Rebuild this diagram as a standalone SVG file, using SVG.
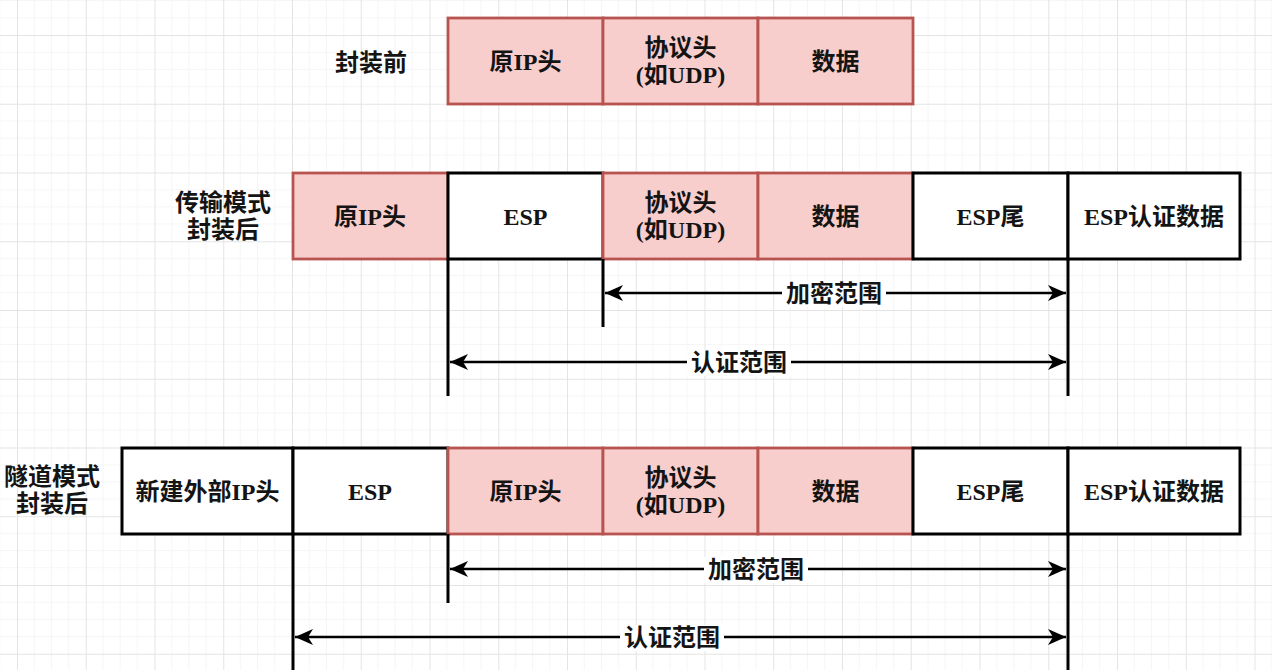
<svg xmlns="http://www.w3.org/2000/svg" width="1272" height="670" viewBox="0 0 1272 670">
<defs>
<style>
.t{font-family:"Liberation Serif","Noto Sans CJK SC",serif;font-weight:bold;font-size:24px;text-anchor:middle;fill:#141414}
.p{fill:#f8cecc;stroke:#b85450;stroke-width:2.8}
.w{fill:#ffffff;stroke:#000000;stroke-width:3}
.v{stroke:#000000;stroke-width:3;fill:none}
.a{stroke:#000000;stroke-width:2.5;fill:none;marker-start:url(#ah);marker-end:url(#ah)}
.bg{fill:#ffffff}
</style>
<marker id="ah" markerUnits="userSpaceOnUse" markerWidth="20" markerHeight="20" viewBox="0 0 20 20" refX="19" refY="10" orient="auto-start-reverse">
<path d="M1,2 L19,10 L1,18 L6,10 Z" fill="#000000"/>
</marker>
<pattern id="grid" x="17" y="35" width="68.75" height="68.75" patternUnits="userSpaceOnUse">
<path d="M17.19,0V68.75M34.38,0V68.75M51.56,0V68.75M0,17.19H68.75M0,34.38H68.75M0,51.56H68.75" stroke="#f5f5f5" stroke-width="1" fill="none"/>
<path d="M0.5,0V68.75M0,0.5H68.75" stroke="#e4e4e4" stroke-width="1" fill="none"/>
</pattern>
</defs>
<rect x="0" y="0" width="1272" height="670" fill="#ffffff"/>
<rect x="0" y="0" width="1272" height="670" fill="url(#grid)"/>

<g id="label-before"><text class="t" x="371" y="71">封装前</text></g>
<g id="label-transport"><text class="t" x="223" y="211">传输模式</text><text class="t" x="223" y="238">封装后</text></g>
<g id="label-tunnel"><text class="t" x="52" y="485">隧道模式</text><text class="t" x="52" y="512">封装后</text></g>

<g id="r1-ip"><rect class="p" x="448" y="18" width="155" height="86"/><text class="t" x="525.5" y="70">原IP头</text></g>
<g id="r1-proto"><rect class="p" x="603" y="18" width="155" height="86"/><text class="t" x="680.5" y="56">协议头</text><text class="t" x="680.5" y="83">(如UDP)</text></g>
<g id="r1-data"><rect class="p" x="758" y="18" width="155" height="86"/><text class="t" x="835.5" y="70">数据</text></g>

<g id="r2-ip"><rect class="p" x="293" y="173" width="155" height="86"/><text class="t" x="370" y="225">原IP头</text></g>
<g id="r2-esp"><rect class="w" x="448" y="173" width="155" height="86"/><text class="t" x="525.5" y="225">ESP</text></g>
<g id="r2-proto"><rect class="p" x="603" y="173" width="155" height="86"/><text class="t" x="680.5" y="211">协议头</text><text class="t" x="680.5" y="238">(如UDP)</text></g>
<g id="r2-data"><rect class="p" x="758" y="173" width="155" height="86"/><text class="t" x="835.5" y="225">数据</text></g>
<g id="r2-trailer"><rect class="w" x="913" y="173" width="155" height="86"/><text class="t" x="990.5" y="225">ESP尾</text></g>
<g id="r2-auth"><rect class="w" x="1068" y="173" width="172" height="86"/><text class="t" x="1154" y="225">ESP认证数据</text></g>

<g id="r3-newip"><rect class="w" x="122" y="448" width="171" height="86"/><text class="t" x="207.5" y="500">新建外部IP头</text></g>
<g id="r3-esp"><rect class="w" x="293" y="448" width="155" height="86"/><text class="t" x="370" y="500">ESP</text></g>
<g id="r3-ip"><rect class="p" x="448" y="448" width="155" height="86"/><text class="t" x="525.5" y="500">原IP头</text></g>
<g id="r3-proto"><rect class="p" x="603" y="448" width="155" height="86"/><text class="t" x="680.5" y="486">协议头</text><text class="t" x="680.5" y="513">(如UDP)</text></g>
<g id="r3-data"><rect class="p" x="758" y="448" width="155" height="86"/><text class="t" x="835.5" y="500">数据</text></g>
<g id="r3-trailer"><rect class="w" x="913" y="448" width="155" height="86"/><text class="t" x="990.5" y="500">ESP尾</text></g>
<g id="r3-auth"><rect class="w" x="1068" y="448" width="172" height="86"/><text class="t" x="1154" y="500">ESP认证数据</text></g>

<g id="connectors">
<line class="v" x1="448" y1="259" x2="448" y2="396"/>
<line class="v" x1="603" y1="259" x2="603" y2="327"/>
<line class="v" x1="1068" y1="259" x2="1068" y2="396"/>
<line class="a" x1="605" y1="293" x2="1066" y2="293"/>
<line class="a" x1="450" y1="362" x2="1066" y2="362"/>
<rect class="bg" x="782" y="281" width="104" height="26"/>
<text class="t" x="834" y="302">加密范围</text>
<rect class="bg" x="687" y="350" width="104" height="26"/>
<text class="t" x="739" y="371">认证范围</text>

<line class="v" x1="293" y1="534" x2="293" y2="670"/>
<line class="v" x1="448" y1="534" x2="448" y2="603"/>
<line class="v" x1="1068" y1="534" x2="1068" y2="670"/>
<line class="a" x1="450" y1="569" x2="1066" y2="569"/>
<line class="a" x1="295" y1="637" x2="1066" y2="637"/>
<rect class="bg" x="704" y="557" width="104" height="26"/>
<text class="t" x="756" y="578">加密范围</text>
<rect class="bg" x="620" y="625" width="104" height="26"/>
<text class="t" x="672" y="646">认证范围</text>
</g>
</svg>
